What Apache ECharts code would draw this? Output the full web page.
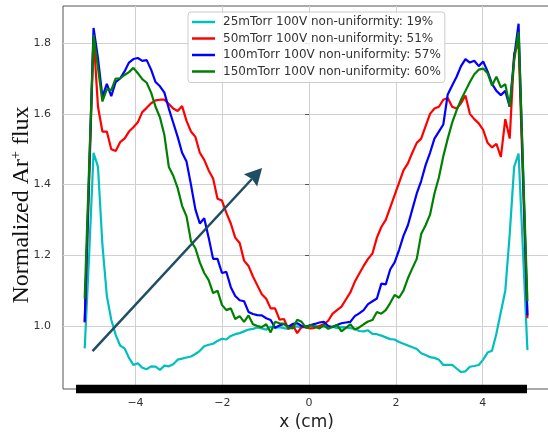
<!DOCTYPE html>
<html><head><meta charset="utf-8">
<script src="https://cdn.jsdelivr.net/npm/echarts@6/dist/echarts.min.js"></script>
<style>html,body{margin:0;padding:0;background:#fff}#c{width:548px;height:435px}</style>
</head><body><div id="c"></div>
<script>
const xCm = [-5.17,-5.068,-4.966,-4.864,-4.762,-4.66,-4.558,-4.456,-4.354,-4.252,-4.15,-4.048,-3.946,-3.844,-3.742,-3.64,-3.538,-3.436,-3.334,-3.232,-3.13,-3.028,-2.926,-2.824,-2.722,-2.62,-2.518,-2.416,-2.314,-2.212,-2.11,-2.008,-1.906,-1.804,-1.702,-1.6,-1.498,-1.396,-1.294,-1.192,-1.09,-0.988,-0.886,-0.784,-0.682,-0.58,-0.478,-0.376,-0.274,-0.172,-0.07,0.032,0.134,0.236,0.338,0.44,0.542,0.644,0.746,0.848,0.95,1.052,1.154,1.256,1.358,1.46,1.562,1.664,1.766,1.868,1.97,2.072,2.174,2.276,2.378,2.48,2.582,2.684,2.786,2.888,2.99,3.092,3.194,3.296,3.398,3.5,3.602,3.704,3.806,3.908,4.01,4.112,4.214,4.316,4.418,4.52,4.622,4.724,4.826,4.928,5.03];

const flux25 = [0.937,1.20,1.49,1.45,1.23,1.085,1.018,0.975,0.945,0.937,0.91,0.89,0.895,0.882,0.878,0.886,0.885,0.876,0.888,0.886,0.892,0.905,0.908,0.911,0.914,0.921,0.93,0.943,0.947,0.95,0.958,0.964,0.962,0.972,0.977,0.98,0.985,0.99,0.992,0.996,0.993,0.99,0.998,0.995,0.997,0.994,0.992,0.997,0.999,0.995,1.0,0.998,1.001,0.997,0.999,0.995,0.998,0.994,0.997,0.996,0.994,0.992,0.986,0.985,0.988,0.978,0.977,0.973,0.968,0.963,0.962,0.955,0.95,0.945,0.94,0.935,0.923,0.918,0.912,0.91,0.905,0.89,0.89,0.89,0.88,0.87,0.872,0.885,0.887,0.89,0.905,0.925,0.93,0.979,1.04,1.10,1.26,1.45,1.488,1.21,0.932];

const flux50 = [1.01,1.41,1.82,1.62,1.55,1.55,1.50,1.495,1.52,1.53,1.55,1.562,1.576,1.605,1.617,1.63,1.638,1.64,1.64,1.628,1.615,1.608,1.622,1.58,1.55,1.535,1.49,1.47,1.44,1.417,1.36,1.355,1.32,1.29,1.25,1.235,1.185,1.17,1.14,1.115,1.09,1.077,1.05,1.05,1.018,1.02,0.992,1.003,0.98,0.998,0.996,0.993,0.995,1.0,1.005,1.015,1.035,1.045,1.055,1.075,1.095,1.125,1.148,1.17,1.19,1.205,1.25,1.28,1.30,1.335,1.37,1.405,1.44,1.46,1.49,1.518,1.53,1.565,1.60,1.615,1.62,1.64,1.645,1.62,1.615,1.63,1.652,1.60,1.585,1.573,1.555,1.518,1.505,1.515,1.478,1.585,1.53,1.77,1.80,1.41,1.022];

const flux100 = [1.012,1.43,1.843,1.757,1.648,1.685,1.65,1.69,1.70,1.72,1.745,1.755,1.758,1.75,1.752,1.725,1.69,1.678,1.66,1.615,1.575,1.535,1.49,1.465,1.40,1.33,1.29,1.305,1.25,1.19,1.19,1.15,1.153,1.11,1.085,1.073,1.07,1.04,1.034,1.031,1.03,1.022,1.017,0.995,1.002,1.006,0.998,1.006,1.008,1.0,0.998,1.003,1.006,1.01,1.012,1.0,0.997,1.003,1.008,1.01,1.012,1.028,1.036,1.045,1.062,1.07,1.078,1.12,1.118,1.16,1.18,1.215,1.255,1.285,1.33,1.375,1.41,1.455,1.49,1.53,1.55,1.57,1.655,1.68,1.705,1.735,1.755,1.745,1.75,1.735,1.748,1.72,1.685,1.665,1.653,1.665,1.62,1.76,1.855,1.44,1.03];

const flux150 = [1.078,1.45,1.823,1.73,1.635,1.67,1.667,1.70,1.70,1.71,1.718,1.73,1.715,1.698,1.688,1.66,1.62,1.59,1.54,1.45,1.425,1.39,1.34,1.31,1.24,1.22,1.18,1.15,1.13,1.093,1.10,1.06,1.045,1.05,1.02,1.028,1.012,1.03,1.005,1.0,0.997,1.005,0.982,1.012,1.008,1.007,0.996,0.993,1.018,1.012,0.995,1.003,0.998,0.993,1.003,0.992,0.998,1.003,0.985,0.995,1.005,0.99,0.996,1.005,1.013,1.017,1.04,1.035,1.045,1.065,1.088,1.08,1.10,1.135,1.163,1.19,1.26,1.285,1.315,1.375,1.42,1.48,1.53,1.575,1.61,1.64,1.665,1.69,1.712,1.725,1.728,1.715,1.68,1.705,1.675,1.684,1.62,1.75,1.832,1.45,1.07];

const seriesNames = ['25mTorr 100V non-uniformity: 19%','50mTorr 100V non-uniformity: 51%','100mTorr 100V non-uniformity: 57%','150mTorr 100V non-uniformity: 60%'];
const seriesColors = ['#00bfbf','#ff0000','#0000ff','#008000'];
const xTicks = [-4,-2,0,2,4];
const yTicks = [1.0,1.2,1.4,1.6,1.8];
const xRange = [-5.67, 5.55];
const yRange = [0.822, 1.905];
const arrowFrom = [-4.99, 0.929];
const arrowTo = [-1.083, 1.447];
const waferSpan = [-5.37, 5.02];

const chart = echarts.init(document.getElementById('c'), null, {renderer:'canvas'});
function pairs(ys){ return xCm.map((x,i)=>[x, ys[i]]); }
const allY = [flux25, flux50, flux100, flux150];

const option = {
  animation:false,
  backgroundColor:'#ffffff',
  grid:{left:63, top:6, width:487, height:383, outerBoundsMode:'none', containLabel:false, show:true, borderColor:'#555', borderWidth:1, backgroundColor:'transparent'},
  xAxis:{type:'value', min:xRange[0], max:xRange[1],
    axisLine:{show:false},
    axisTick:{show:true, customValues:xTicks, length:4, lineStyle:{color:'#555'}},
    axisLabel:{customValues:xTicks, formatter:v=> v<0 ? '\u2212'+Math.abs(v) : String(v), fontSize:11, color:'#333', margin:9, fontFamily:'DejaVu Sans'},
    splitLine:{show:true, lineStyle:{color:'#d0d0d0', width:1}},
    name:'x (cm)', nameLocation:'middle', nameGap:24,
    nameTextStyle:{fontSize:17, color:'#222', fontFamily:'DejaVu Sans', verticalAlign:'top'}},
  yAxis:{type:'value', min:yRange[0], max:yRange[1],
    axisLine:{show:false},
    axisTick:{show:true, customValues:yTicks, length:4, lineStyle:{color:'#555'}},
    axisLabel:{customValues:yTicks, formatter:v=>v.toFixed(1), fontSize:11, color:'#333', margin:12, fontFamily:'DejaVu Sans'},
    splitLine:{show:true, lineStyle:{color:'#d0d0d0', width:1}}},
  legend:{orient:'vertical', left:188, top:12, padding:[4,4,5,4], itemGap:4.5, itemWidth:23, itemHeight:2.5, icon:'rect',
    backgroundColor:'rgba(255,255,255,0.85)', borderColor:'#cccccc', borderWidth:1, borderRadius:3,
    textStyle:{fontSize:12, color:'#333', fontFamily:'DejaVu Sans', padding:[0,0,0,3]},
    data:seriesNames},
  series: allY.map((ys,k)=>({
    type:'line', name:seriesNames[k], data:pairs(ys), showSymbol:false, symbol:'none',
    lineStyle:{width:2.2, color:seriesColors[k]}, itemStyle:{color:seriesColors[k]}, z:2+k
  }))
};
chart.setOption(option);

const a0 = chart.convertToPixel({gridIndex:0}, arrowFrom);
const a1 = chart.convertToPixel({gridIndex:0}, arrowTo);
const dx = a1[0]-a0[0], dy = a1[1]-a0[1];
const L = Math.hypot(dx,dy), ux = dx/L, uy = dy/L, nx = -uy, ny = ux;
const headLen = 17, halfW = 9;
const bx = a1[0]-ux*headLen, by = a1[1]-uy*headLen;
const w0 = chart.convertToPixel({gridIndex:0}, [waferSpan[0], yRange[0]]);
const w1 = chart.convertToPixel({gridIndex:0}, [waferSpan[1], yRange[0]]);
const arrowColor = '#1f4d63';

chart.setOption({graphic:[
  {type:'line', z:100, shape:{x1:a0[0], y1:a0[1], x2:bx+ux*2, y2:by+uy*2}, style:{stroke:arrowColor, lineWidth:2.5}},
  {type:'polygon', z:100, shape:{points:[[a1[0],a1[1]],[bx+nx*halfW,by+ny*halfW],[bx+ux*2,by+uy*2],[bx-nx*halfW,by-ny*halfW]]}, style:{fill:arrowColor}},
  {type:'rect', z:100, shape:{x:w0[0], y:w0[1]-4.3, width:w1[0]-w0[0], height:8.6}, style:{fill:'#000'}},
  {type:'text', z:100, x:22, y:205, rotation:Math.PI/2,
    style:{text:'{a|Normalized Ar}{s|+}{a| flux}', align:'center', verticalAlign:'middle',
      rich:{a:{fontSize:24, fontFamily:'Liberation Serif', fill:'#111'}, s:{fontSize:14, fontFamily:'Liberation Serif', fill:'#111', padding:[0,0,12,0]}}}}
]});
</script></body></html>
